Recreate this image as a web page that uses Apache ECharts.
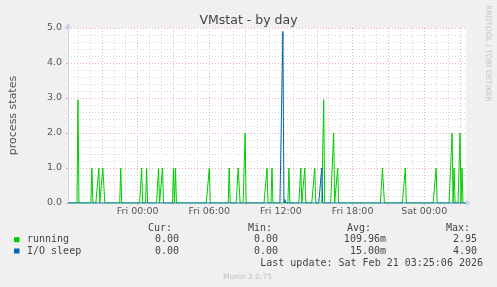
<!DOCTYPE html>
<html>
<head>
<meta charset="utf-8">
<script src="https://cdn.jsdelivr.net/npm/echarts@6/dist/echarts.min.js"></script>
<style>
html,body{margin:0;padding:0;background:#f0f0f0;}
#chart{width:497px;height:287px;}
</style>
</head>
<body>
<div id="chart"></div>
<script>
// ---- data (times relative to the day names, 5-minute samples) ----
const dayNames = ['Thu', 'Fri', 'Sat'];          // day offset -1, 0, 1 from Fri
const windowStart = 'Thu 18:10';
const windowEnd = 'Sat 03:30';
const runningTimes = ['Thu 19:00','Thu 20:10','Thu 20:45','Thu 21:05','Thu 21:10','Thu 22:35',
  'Fri 00:20','Fri 00:45','Fri 01:45','Fri 02:05','Fri 03:00','Fri 03:10','Fri 06:00','Fri 07:40',
  'Fri 08:25','Fri 08:30','Fri 09:00','Fri 10:50','Fri 11:15','Fri 12:40','Fri 13:40','Fri 14:00',
  'Fri 14:50','Fri 15:35','Fri 16:25','Fri 16:45','Fri 20:30','Fri 20:35','Fri 22:25',
  'Sat 01:00','Sat 02:20','Sat 02:30','Sat 03:00','Sat 03:10'];
const runningValues = [2.95,1,1,1,1,1,
  1,1,1,1,1,1,1,1,
  1,1,2,1,1,1,1,1,
  1,2.95,2,1,1,1,1,
  1,2,1,2,1];
const ioTimes = ['Fri 12:10','Fri 12:20','Fri 15:25'];
const ioValues = [4.9, 0.1, 1.0];
const yTickLabels = ['0.0','1.0','2.0','3.0','4.0','5.0'];

const legendNames = ['running', 'I/O sleep'];
const legendColors = ['#00cc00', '#0066b3'];
const curValues = ['0.00', '0.00'];
const minValues = ['0.00', '0.00'];
const avgValues = ['109.96m', '15.00m'];
const maxValues = ['2.95', '4.90'];
const lastUpdate = 'Last update: Sat Feb 21 03:25:06 2026';
const versionText = 'Munin 2.0.75';
const titleText = 'VMstat - by day';
const yAxisTitle = 'process states';
const sideText = 'RRDTOOL / TOBI OETIKER';

// ---- helpers ----
function toMinutes(s) {           // minutes since Fri 00:00
  const [d, hm] = s.split(' ');
  const [h, m] = hm.split(':').map(Number);
  return (dayNames.indexOf(d) - 1) * 1440 + h * 60 + m;
}
function pad(n) { return (n < 10 ? '0' : '') + n; }
const xMin = toMinutes(windowStart);
const xMax = toMinutes(windowEnd);

function buildSeries(times, values) {
  const lookup = {};
  times.forEach((t, i) => { lookup[toMinutes(t)] = values[i]; });
  const out = [];
  for (let m = xMin; m <= xMax; m += 5) out.push([m, lookup[m] !== undefined ? lookup[m] : 0]);
  return out;
}

const F = 'DejaVu Sans';
const MONO = 'DejaVu Sans Mono';
const axisBlue = '#c8d2f5';
const redGrid = '#f0b0b0';
const grayGrid = '#d8d8d8';

const chart = echarts.init(document.getElementById('chart'), null, {renderer: 'canvas'});

const graphics = [];
const rowY = [239.7, 251];
const textColor = '#444';
function gtext(txt, x, y, align, extra) {
  graphics.push(Object.assign({
    type: 'text', x: x, y: y,
    style: {text: txt, fill: textColor, font: '10px "' + MONO + '"', textAlign: align, textVerticalAlign: 'middle'}
  }, extra || {}));
}
gtext('Cur:', 172, 228, 'right');
gtext('Min:', 272, 228, 'right');
gtext('Avg:', 371, 228, 'right');
gtext('Max:', 470, 228, 'right');
legendNames.forEach((n, i) => {
  graphics.push({type: 'rect', shape: {x: 14, y: rowY[i] - 2.5, width: 5.5, height: 5}, style: {fill: legendColors[i]}});
  gtext(n, 27, rowY[i], 'left');
  gtext(curValues[i], 179, rowY[i], 'right');
  gtext(minValues[i], 278, rowY[i], 'right');
  gtext(avgValues[i], 386, rowY[i], 'right');
  gtext(maxValues[i], 477, rowY[i], 'right');
});
gtext(lastUpdate, 483, 263.7, 'right');
graphics.push({type: 'text', x: 247.5, y: 276.7,
  style: {text: versionText, fill: '#c0c0c0', font: '7.5px "' + F + '"', textAlign: 'center', textVerticalAlign: 'middle'}});
graphics.push({type: 'text', x: 487.7, y: 53.5, rotation: -Math.PI / 2,
  style: {text: sideText, fill: '#c4c4c4', font: '7.5px "' + F + '"', textAlign: 'center', textVerticalAlign: 'middle'}});

const option = {
  animation: false,
  backgroundColor: '#f0f0f0',
  title: {
    text: titleText, left: 'center', top: 9,
    textStyle: {fontFamily: F, fontSize: 12.5, fontWeight: 'normal', color: '#444'}
  },
  grid: {left: 66, top: 28, width: 400, height: 175, show: true, backgroundColor: '#ffffff', borderWidth: 0, containLabel: false},
  xAxis: [
    {
      type: 'value', position: 'bottom', min: xMin, max: xMax,
      minInterval: 60, maxInterval: 60,
      axisLine: {show: false, onZero: false}, axisTick: {show: false}, axisLabel: {show: false},
      splitLine: {show: true, showMinLine: false, showMaxLine: false, lineStyle: {color: grayGrid, type: [1, 2], width: 1}}
    },
    {
      type: 'value', position: 'bottom', min: xMin, max: xMax,
      minInterval: 180, maxInterval: 180, z: 1,
      axisLine: {show: true, onZero: false, symbol: ['none', 'arrow'], symbolSize: [6, 6], symbolOffset: [0, 5], lineStyle: {color: axisBlue}},
      axisTick: {show: true, length: 2, lineStyle: {color: redGrid}},
      axisLabel: {
        show: true, margin: 4, color: '#555', fontFamily: F, fontSize: 9.5,
        showMinLabel: false, showMaxLabel: false,
        formatter: function (v) {
          if (v % 360 !== 0) return '';
          const dayIdx = Math.floor(v / 1440) + 1;
          const h = ((v % 1440) + 1440) % 1440 / 60;
          return dayNames[dayIdx] + ' ' + pad(h) + ':00';
        }
      },
      splitLine: {show: true, showMinLine: false, showMaxLine: false, lineStyle: {color: redGrid, type: [1, 2], width: 1}}
    }
  ],
  yAxis: {
    type: 'value', min: 0, max: 5, interval: 1,
    name: yAxisTitle, nameLocation: 'middle', nameGap: 49, nameRotate: 90,
    nameTextStyle: {fontFamily: F, fontSize: 11, color: '#555'},
    axisLine: {show: true, onZero: false, symbol: ['none', 'arrow'], symbolSize: [6, 6], symbolOffset: [0, 5], lineStyle: {color: axisBlue}},
    axisTick: {show: true, length: 2, lineStyle: {color: redGrid}},
    axisLabel: {margin: 6, color: '#555', fontFamily: F, fontSize: 9.5, formatter: function (v) { return yTickLabels[Math.round(v)]; }},
    splitLine: {show: true, showMinLine: false, lineStyle: {color: redGrid, type: [1, 2], width: 1}},
    minorTick: {show: false, splitNumber: 5},
    minorSplitLine: {show: true, lineStyle: {color: grayGrid, type: [1, 2], width: 1}}
  },
  series: [
    {name: legendNames[0], type: 'line', xAxisIndex: 0, data: buildSeries(runningTimes, runningValues),
     showSymbol: false, lineStyle: {color: legendColors[0], width: 1}, itemStyle: {color: legendColors[0]}, z: 3},
    {name: legendNames[1], type: 'line', xAxisIndex: 0, data: buildSeries(ioTimes, ioValues),
     showSymbol: false, lineStyle: {color: legendColors[1], width: 1}, itemStyle: {color: legendColors[1]}, z: 4}
  ],
  graphic: graphics
};
chart.setOption(option);
</script>
</body>
</html>
